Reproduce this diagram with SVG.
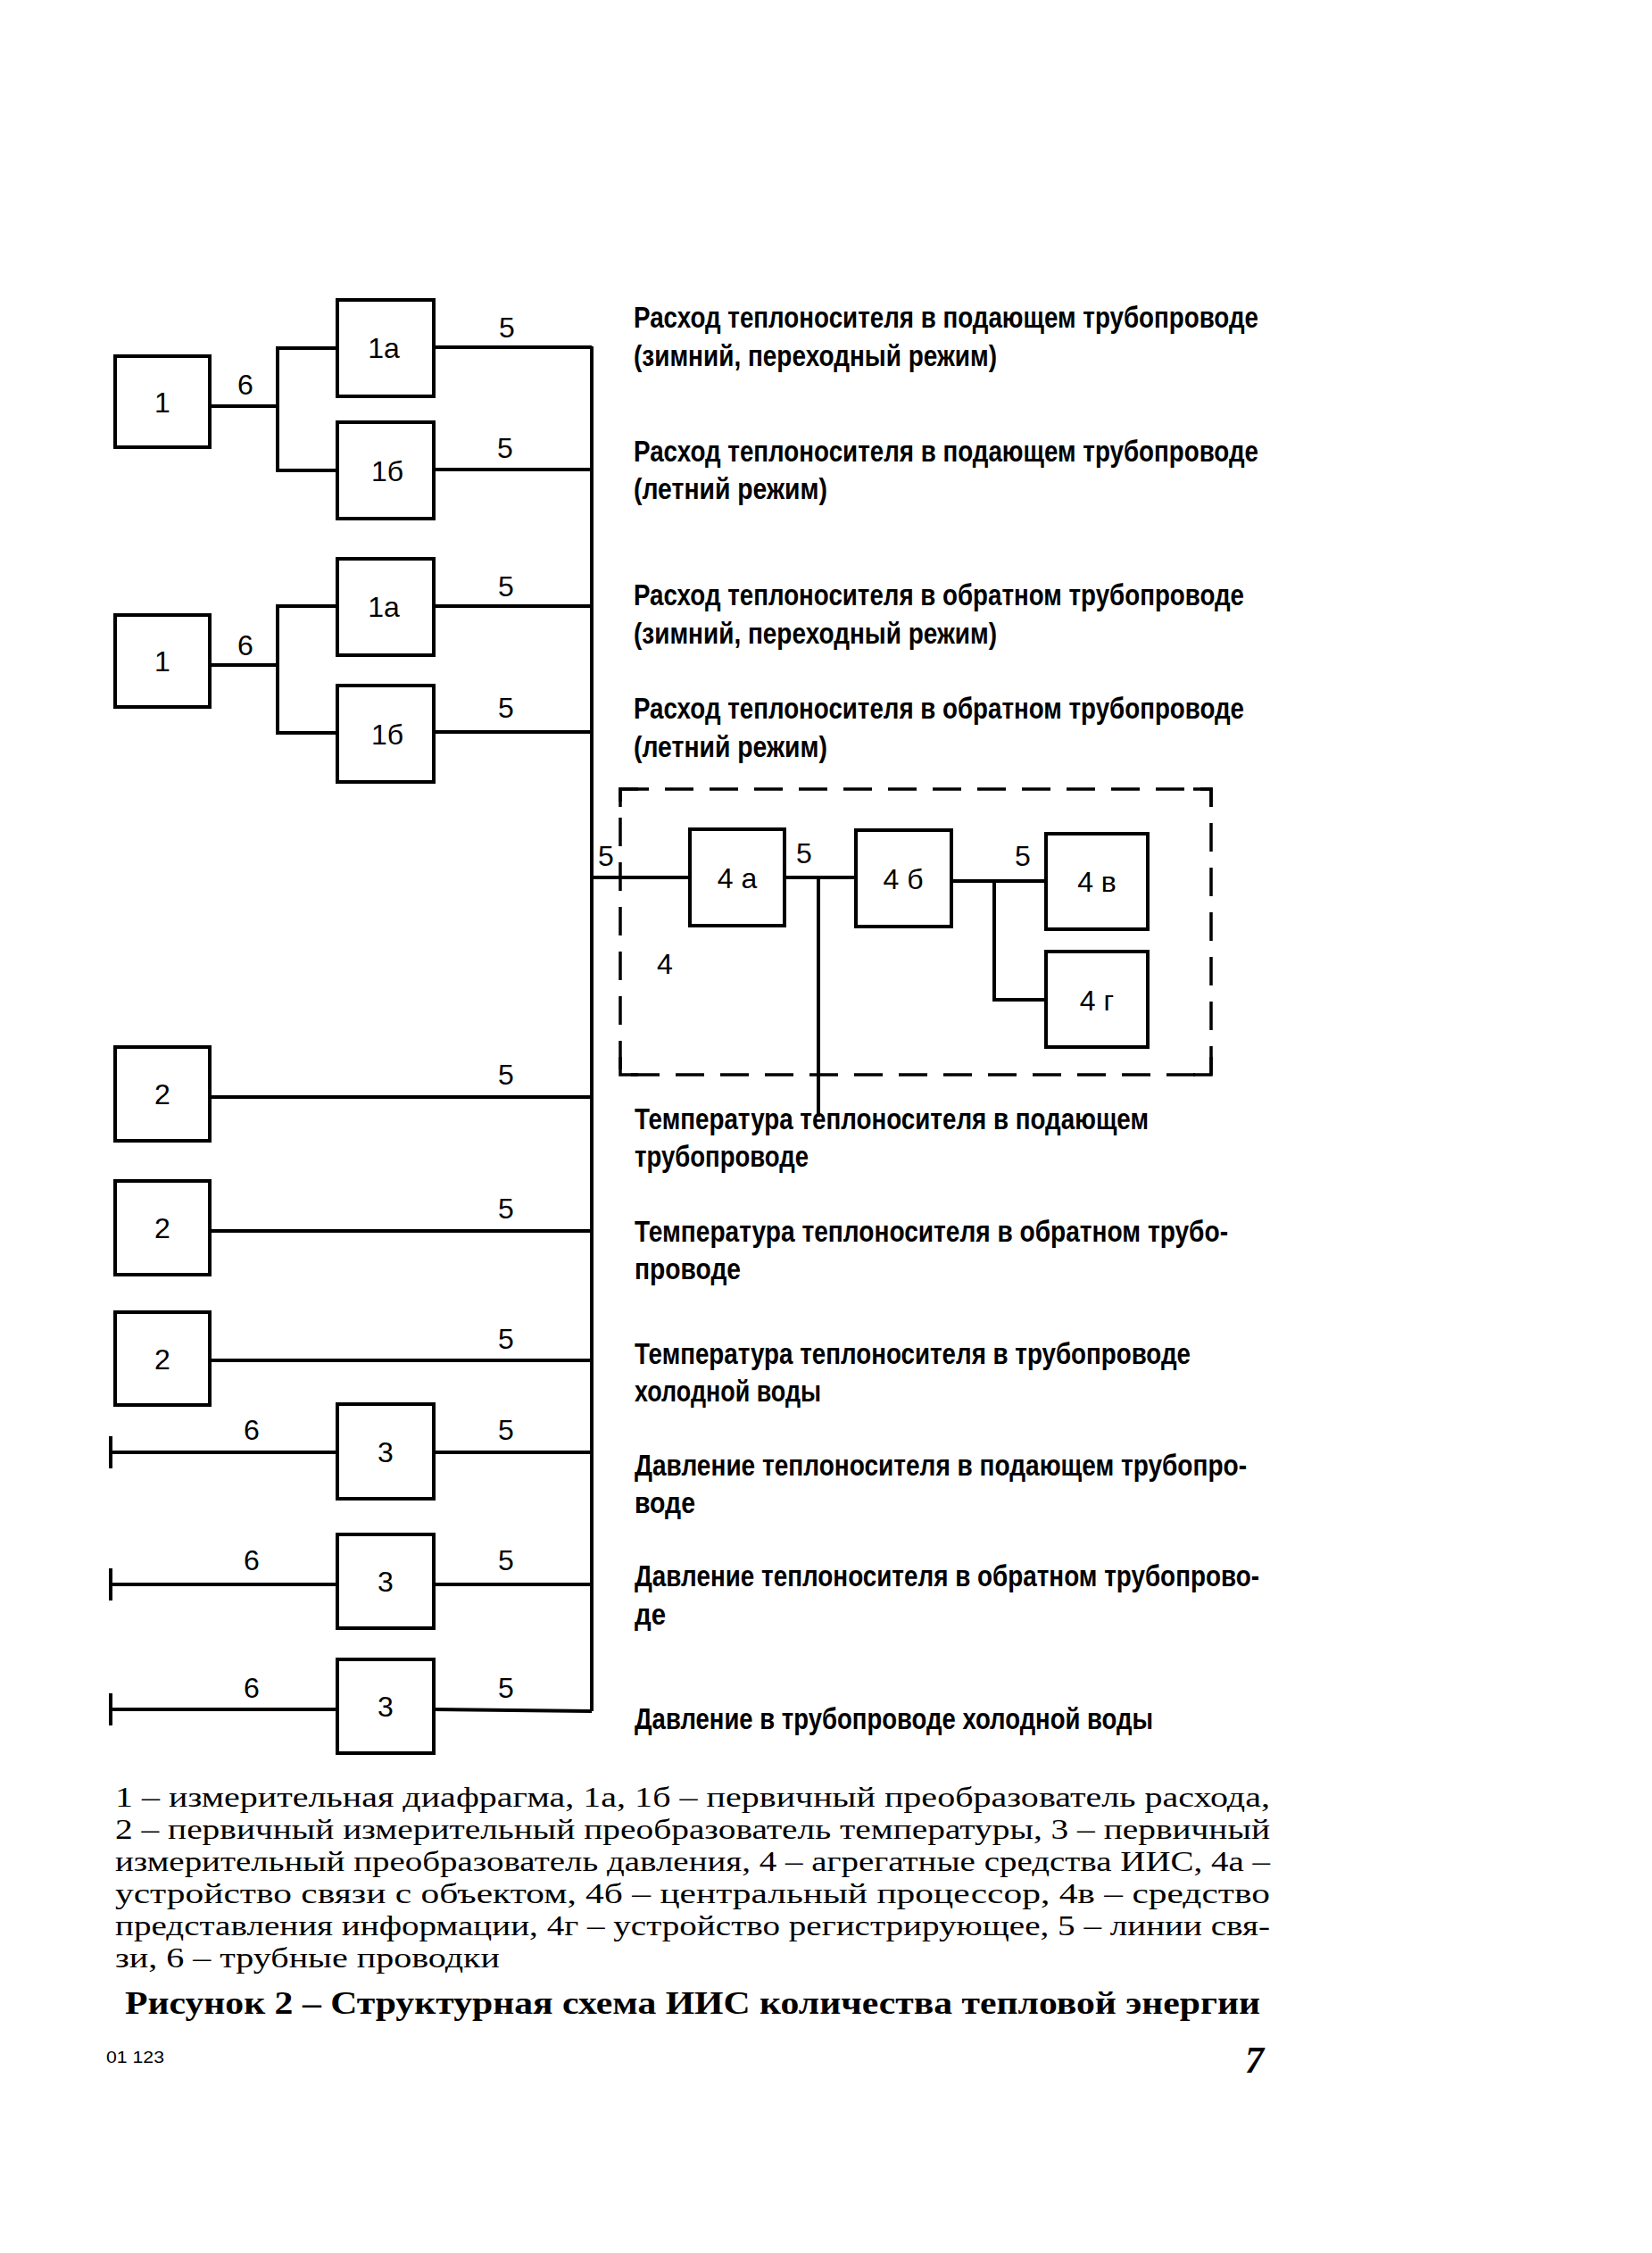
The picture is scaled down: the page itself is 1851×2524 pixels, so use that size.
<svg xmlns="http://www.w3.org/2000/svg" width="1851" height="2524" viewBox="0 0 1851 2524">
<style>
.box{fill:none;stroke:#000;stroke-width:4}
.ln{fill:none;stroke:#000;stroke-width:4}
.dash{fill:none;stroke:#000;stroke-width:3.5;stroke-dasharray:32 18}
.bl{font-family:"Liberation Sans",Arial,sans-serif;font-size:32px;fill:#000;text-anchor:middle}
.num{font-family:"Liberation Sans",Arial,sans-serif;font-size:32px;fill:#000;text-anchor:middle}
.lbl{font-family:"Liberation Sans",Arial,sans-serif;font-size:33px;font-weight:bold;fill:#000}
.cap{font-family:"Liberation Serif","Times New Roman",serif;font-size:31px;fill:#000}
.ttl{font-family:"Liberation Serif","Times New Roman",serif;font-size:36px;font-weight:bold;fill:#000}
</style>
<rect width="1851" height="2524" fill="#fff"/>

<g id="connectors">
  <line class="ln" x1="663" y1="388" x2="663" y2="1917"/>
  <polyline class="ln" points="235,455 311,455"/>
  <polyline class="ln" points="378,390 311,390 311,527 378,527"/>
  <line class="ln" x1="486" y1="389" x2="663" y2="389"/>
  <line class="ln" x1="486" y1="526" x2="663" y2="526"/>
  <polyline class="ln" points="235,745 311,745"/>
  <polyline class="ln" points="378,679 311,679 311,821 378,821"/>
  <line class="ln" x1="486" y1="679" x2="663" y2="679"/>
  <line class="ln" x1="486" y1="820" x2="663" y2="820"/>
  <line class="ln" x1="663" y1="983" x2="773" y2="983"/>
  <line class="ln" x1="879" y1="983" x2="959" y2="983"/>
  <line class="ln" x1="917" y1="983" x2="917" y2="1251"/>
  <line class="ln" x1="1066" y1="987" x2="1172" y2="987"/>
  <polyline class="ln" points="1114,987 1114,1120 1172,1120"/>
  <line class="ln" x1="235" y1="1229" x2="663" y2="1229"/>
  <line class="ln" x1="235" y1="1379" x2="663" y2="1379"/>
  <line class="ln" x1="235" y1="1524" x2="663" y2="1524"/>
  <line class="ln" x1="124" y1="1627" x2="378" y2="1627"/>
  <line class="ln" x1="124" y1="1609" x2="124" y2="1645"/>
  <line class="ln" x1="486" y1="1627" x2="663" y2="1627"/>
  <line class="ln" x1="124" y1="1775" x2="378" y2="1775"/>
  <line class="ln" x1="124" y1="1757" x2="124" y2="1793"/>
  <line class="ln" x1="486" y1="1775" x2="663" y2="1775"/>
  <line class="ln" x1="124" y1="1915" x2="378" y2="1915"/>
  <line class="ln" x1="124" y1="1897" x2="124" y2="1933"/>
  <line class="ln" x1="486" y1="1915" x2="663" y2="1917"/>
  <text class="num" x="275" y="442">6</text>
  <text class="num" x="568" y="378">5</text>
  <text class="num" x="566" y="513">5</text>
  <text class="num" x="275" y="734">6</text>
  <text class="num" x="567" y="668">5</text>
  <text class="num" x="567" y="804">5</text>
  <text class="num" x="679" y="970">5</text>
  <text class="num" x="901" y="967">5</text>
  <text class="num" x="1146" y="970">5</text>
  <text class="num" x="567" y="1215">5</text>
  <text class="num" x="567" y="1365">5</text>
  <text class="num" x="567" y="1511">5</text>
  <text class="num" x="282" y="1613">6</text>
  <text class="num" x="567" y="1613">5</text>
  <text class="num" x="282" y="1759">6</text>
  <text class="num" x="567" y="1759">5</text>
  <text class="num" x="282" y="1902">6</text>
  <text class="num" x="567" y="1902">5</text>
</g>

<g id="node-1-top"><rect class="box" x="129" y="399" width="106" height="102"/><text class="bl" x="182" y="462">1</text></g>
<g id="node-1a-top"><rect class="box" x="378" y="336" width="108" height="108"/><text class="bl" x="430" y="401">1а</text></g>
<g id="node-1b-top"><rect class="box" x="378" y="473" width="108" height="108"/><text class="bl" x="434" y="539">1б</text></g>
<g id="node-1-bottom"><rect class="box" x="129" y="689" width="106" height="103"/><text class="bl" x="182" y="752">1</text></g>
<g id="node-1a-bottom"><rect class="box" x="378" y="626" width="108" height="108"/><text class="bl" x="430" y="691">1а</text></g>
<g id="node-1b-bottom"><rect class="box" x="378" y="768" width="108" height="108"/><text class="bl" x="434" y="834">1б</text></g>

<g id="node-4">
  <rect class="dash" x="695" y="884" width="662" height="320"/>
  <polyline class="ln" points="695,904 695,884 715,884" style="stroke-width:3.5"/>
  <polyline class="ln" points="1337,884 1357,884 1357,904" style="stroke-width:3.5"/>
  <polyline class="ln" points="695,1184 695,1204 715,1204" style="stroke-width:3.5"/>
  <polyline class="ln" points="1337,1204 1357,1204 1357,1184" style="stroke-width:3.5"/>
  <text class="bl" x="745" y="1091">4</text>
</g>
<g id="node-4a"><rect class="box" x="773" y="929" width="106" height="108"/><text class="bl" x="826" y="995">4 а</text></g>
<g id="node-4b"><rect class="box" x="959" y="930" width="107" height="108"/><text class="bl" x="1012" y="996">4 б</text></g>
<g id="node-4v"><rect class="box" x="1172" y="934" width="114" height="107"/><text class="bl" x="1229" y="999">4 в</text></g>
<g id="node-4g"><rect class="box" x="1172" y="1066" width="114" height="107"/><text class="bl" x="1229" y="1132">4 г</text></g>

<g id="node-2-1"><rect class="box" x="129" y="1173" width="106" height="105"/><text class="bl" x="182" y="1237">2</text></g>
<g id="node-2-2"><rect class="box" x="129" y="1323" width="106" height="105"/><text class="bl" x="182" y="1387">2</text></g>
<g id="node-2-3"><rect class="box" x="129" y="1470" width="106" height="104"/><text class="bl" x="182" y="1534">2</text></g>
<g id="node-3-1"><rect class="box" x="378" y="1573" width="108" height="106"/><text class="bl" x="432" y="1638">3</text></g>
<g id="node-3-2"><rect class="box" x="378" y="1719" width="108" height="105"/><text class="bl" x="432" y="1783">3</text></g>
<g id="node-3-3"><rect class="box" x="378" y="1859" width="108" height="105"/><text class="bl" x="432" y="1923">3</text></g>

<g id="labels">
  <text class="lbl" x="710" y="367" textLength="700" lengthAdjust="spacingAndGlyphs">Расход теплоносителя в подающем трубопроводе</text>
  <text class="lbl" x="710" y="410" textLength="407" lengthAdjust="spacingAndGlyphs">(зимний, переходный режим)</text>
  <text class="lbl" x="710" y="517" textLength="700" lengthAdjust="spacingAndGlyphs">Расход теплоносителя в подающем трубопроводе</text>
  <text class="lbl" x="710" y="559" textLength="217" lengthAdjust="spacingAndGlyphs">(летний режим)</text>
  <text class="lbl" x="710" y="678" textLength="684" lengthAdjust="spacingAndGlyphs">Расход теплоносителя в обратном трубопроводе</text>
  <text class="lbl" x="710" y="721" textLength="407" lengthAdjust="spacingAndGlyphs">(зимний, переходный режим)</text>
  <text class="lbl" x="710" y="805" textLength="684" lengthAdjust="spacingAndGlyphs">Расход теплоносителя в обратном трубопроводе</text>
  <text class="lbl" x="710" y="848" textLength="217" lengthAdjust="spacingAndGlyphs">(летний режим)</text>
  <text class="lbl" x="711" y="1265" textLength="576" lengthAdjust="spacingAndGlyphs">Температура теплоносителя в подающем</text>
  <text class="lbl" x="711" y="1307" textLength="195" lengthAdjust="spacingAndGlyphs">трубопроводе</text>
  <text class="lbl" x="711" y="1391" textLength="665" lengthAdjust="spacingAndGlyphs">Температура теплоносителя в обратном трубо-</text>
  <text class="lbl" x="711" y="1433" textLength="119" lengthAdjust="spacingAndGlyphs">проводе</text>
  <text class="lbl" x="711" y="1528" textLength="623" lengthAdjust="spacingAndGlyphs">Температура теплоносителя в трубопроводе</text>
  <text class="lbl" x="711" y="1570" textLength="209" lengthAdjust="spacingAndGlyphs">холодной воды</text>
  <text class="lbl" x="711" y="1653" textLength="686" lengthAdjust="spacingAndGlyphs">Давление теплоносителя в подающем трубопро-</text>
  <text class="lbl" x="711" y="1695" textLength="68" lengthAdjust="spacingAndGlyphs">воде</text>
  <text class="lbl" x="711" y="1777" textLength="700" lengthAdjust="spacingAndGlyphs">Давление теплоносителя в обратном трубопрово-</text>
  <text class="lbl" x="711" y="1820" textLength="35" lengthAdjust="spacingAndGlyphs">де</text>
  <text class="lbl" x="711" y="1937" textLength="581" lengthAdjust="spacingAndGlyphs">Давление в трубопроводе холодной воды</text>
</g>

<g id="caption">
  <text class="cap" x="129" y="2024" textLength="1294" lengthAdjust="spacingAndGlyphs">1 – измерительная диафрагма, 1а, 1б – первичный преобразователь расхода,</text>
  <text class="cap" x="129" y="2060" textLength="1294" lengthAdjust="spacingAndGlyphs">2 – первичный измерительный преобразователь температуры, 3 – первичный</text>
  <text class="cap" x="129" y="2096" textLength="1294" lengthAdjust="spacingAndGlyphs">измерительный преобразователь давления, 4 – агрегатные средства ИИС, 4а –</text>
  <text class="cap" x="129" y="2132" textLength="1294" lengthAdjust="spacingAndGlyphs">устройство связи с объектом, 4б – центральный процессор, 4в – средство</text>
  <text class="cap" x="129" y="2168" textLength="1294" lengthAdjust="spacingAndGlyphs">представления информации, 4г – устройство регистрирующее, 5 – линии свя-</text>
  <text class="cap" x="129" y="2204" textLength="431" lengthAdjust="spacingAndGlyphs">зи, 6 – трубные проводки</text>
  <text class="ttl" x="140" y="2256" textLength="1272" lengthAdjust="spacingAndGlyphs">Рисунок 2 – Структурная схема ИИС количества тепловой энергии</text>
  <text x="119" y="2311" font-family="Liberation Sans, Arial, sans-serif" font-size="18" textLength="65" lengthAdjust="spacingAndGlyphs">01 123</text>
  <text x="1395" y="2322" font-family="Liberation Serif, Times New Roman, serif" font-size="42" font-weight="bold" font-style="italic">7</text>
</g>
</svg>
